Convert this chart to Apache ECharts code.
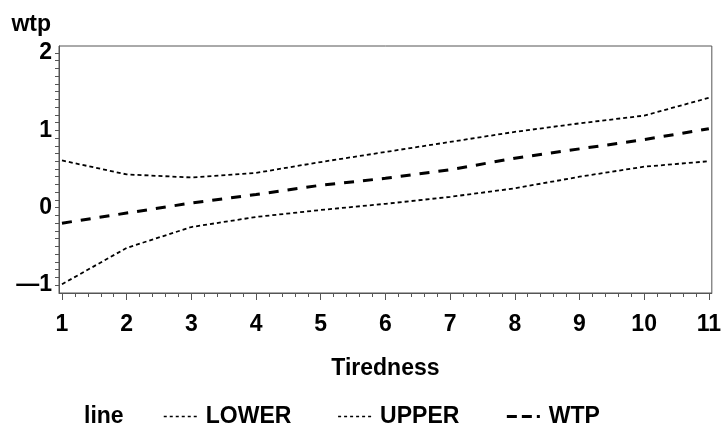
<!DOCTYPE html>
<html>
<head>
<meta charset="utf-8">
<script src="https://cdn.jsdelivr.net/npm/echarts@6/dist/echarts.min.js"></script>
<style>
  html, body { margin: 0; padding: 0; background: #fff; }
  #chart { width: 724px; height: 438px; }
</style>
</head>
<body>
<div id="chart"></div>
<script>
// values
var tiredness = [1, 2, 3, 4, 5, 6, 7, 8, 9, 10, 11];
var lower = [-0.99, -0.52, -0.25, -0.12, -0.03, 0.05, 0.14, 0.25, 0.40, 0.53, 0.60];
var upper = [0.61, 0.43, 0.39, 0.45, 0.59, 0.72, 0.85, 0.98, 1.09, 1.19, 1.42];
var wtp = [-0.20, -0.07, 0.06, 0.17, 0.29, 0.38, 0.49, 0.64, 0.76, 0.88, 1.02];

var xLabels = [1, 2, 3, 4, 5, 6, 7, 8, 9, 10, 11];
var yLabels = [-1, 0, 1, 2];

// minor ticks: 0.2 steps on x, 0.1 steps on y
var xMinor = [];
for (var i = 0; i <= 50; i++) {
    xMinor.push(+(1 + i * 0.2).toFixed(1));
}
var yMinor = [];
for (var j = 0; j <= 30; j++) {
    yMinor.push(+(-1 + j * 0.1).toFixed(1));
}

function pairs(ys) {
    var out = [];
    for (var k = 0; k < tiredness.length; k++) {
        out.push([tiredness[k], ys[k]]);
    }
    return out;
}

var font = "'Liberation Sans', Arial, sans-serif";
var axisColor = '#555';
var boldText = { fontFamily: font, fontSize: 23, fontWeight: 'bold', color: '#000' };

const chartDom = document.getElementById('chart');
const chart = echarts.init(chartDom);

const option = {
    animation: false,
    backgroundColor: '#fff',
    title: {
        text: 'line',
        left: 79,
        top: 400,
        textStyle: boldText
    },
    legend: {
        data: [
            { name: 'LOWER', lineStyle: { type: [3, 3], width: 1.5 } },
            { name: 'UPPER', lineStyle: { type: [3, 3], width: 1.5 } },
            { name: 'WTP', lineStyle: { type: [10, 5], width: 3 } }
        ],
        left: 158,
        top: 400,
        itemWidth: 33,
        itemHeight: 14,
        itemGap: 46,
        itemStyle: { opacity: 0 },
        textStyle: Object.assign({ padding: [0, 0, 0, 4] }, boldText)
    },
    grid: {
        show: true,
        left: 59,
        right: 11,
        top: 46,
        bottom: 145,
        borderColor: axisColor,
        borderWidth: 1,
        backgroundColor: '#fff'
    },
    xAxis: [{
        type: 'value',
        min: 0.954,
        max: 11.046,
        name: 'Tiredness',
        nameLocation: 'middle',
        nameGap: 64,
        nameTextStyle: boldText,
        axisLine: { show: true, onZero: false, lineStyle: { color: axisColor, width: 1 } },
        axisTick: { show: true, customValues: xMinor, length: 4, lineStyle: { color: axisColor } },
        axisLabel: Object.assign({ customValues: xLabels, margin: 20 }, boldText),
        splitLine: { show: false }
    }, {
        type: 'value',
        position: 'bottom',
        min: 0.954,
        max: 11.046,
        axisLine: { show: false, onZero: false },
        axisTick: { show: true, customValues: xLabels, length: 7, lineStyle: { color: axisColor } },
        axisLabel: { show: false },
        splitLine: { show: false }
    }],
    yAxis: {
        type: 'value',
        min: -1.103,
        max: 2.09,
        name: 'wtp',
        nameLocation: 'end',
        nameGap: 10,
        nameTextStyle: Object.assign({
            align: 'right', verticalAlign: 'bottom', padding: [0, 8, 0, 0]
        }, boldText),
        axisLine: { show: true, onZero: false, lineStyle: { color: axisColor, width: 1 } },
        axisTick: { show: true, customValues: yMinor, length: 4, lineStyle: { color: axisColor } },
        axisLabel: Object.assign({
            customValues: yLabels,
            margin: 7,
            formatter: function (v) {
                return v < 0 ? '\u2014' + Math.abs(v) : String(v);
            }
        }, boldText),
        splitLine: { show: false }
    },
    series: [
        {
            name: 'LOWER',
            type: 'line',
            symbol: 'none',
            lineStyle: { color: '#000', width: 1.8, type: [4, 3] },
            itemStyle: { color: '#000' },
            data: pairs(lower)
        },
        {
            name: 'UPPER',
            type: 'line',
            symbol: 'none',
            lineStyle: { color: '#000', width: 1.8, type: [4, 3] },
            itemStyle: { color: '#000' },
            data: pairs(upper)
        },
        {
            name: 'WTP',
            type: 'line',
            symbol: 'none',
            lineStyle: { color: '#000', width: 3, type: [10, 9] },
            itemStyle: { color: '#000' },
            data: pairs(wtp)
        }
    ]
};

option && chart.setOption(option);
</script>
</body>
</html>
